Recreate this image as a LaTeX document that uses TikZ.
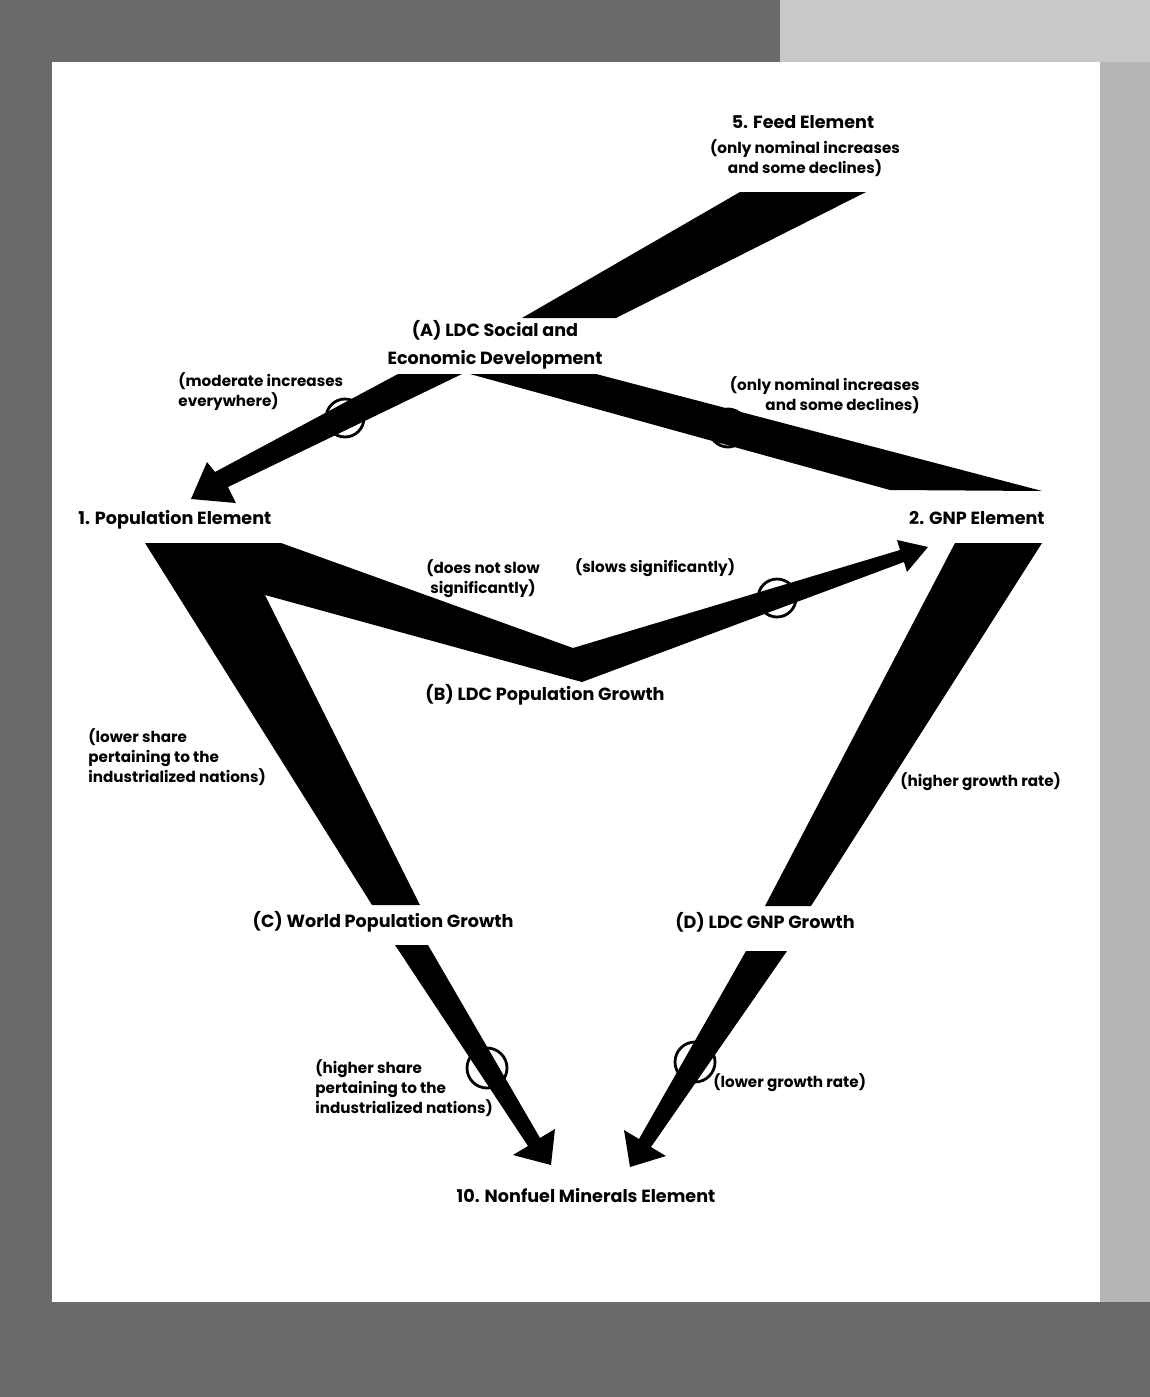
\documentclass[tikz,border=0pt]{standalone}
\usepackage{fontspec}
\setmainfont{Poppins}
\usetikzlibrary{positioning}
\definecolor{scanGrey}{HTML}{6A6A6A}
\definecolor{scanLight}{HTML}{C8C8C8}

\begin{document}
\begin{tikzpicture}[x=0.5pt, y=-0.5pt,
    titleLbl/.style={font=\fontsize{8.8}{14}\selectfont\bfseries, inner sep=0pt, align=center},
    noteLbl/.style={font=\fontsize{7.6}{10}\selectfont\bfseries, inner sep=0pt, align=center},
    noteLeft/.style={noteLbl, align=left, anchor=west},
    noteRight/.style={noteLbl, align=right, anchor=east},
    band/.style={fill=black, draw=none},
    breakRing/.style={draw=black, line width=1.4pt}
]
    \useasboundingbox (0,0) rectangle (1150,1397);

    % scanned page border
    \fill[scanGrey] (0,0) rectangle (1150,1397);
    \fill[scanLight] (780,0) rectangle (1150,62);
    \fill[scanLight!80!scanGrey] (1100,62) rectangle (1150,1302);
    \fill[white] (52,62) rectangle (1100,1302);

    % wide bands
    \fill[band] (740,192) -- (866,192) -- (616,318) -- (522,318) -- cycle;
    \fill[band] (398,374) -- (462,374) -- (228,487) -- (236,503) -- (191,499) -- (207,462) -- (215,472) -- cycle;
    \fill[band] (470,374) -- (596,374) -- (1042,491) -- (890,490) -- cycle;
    \fill[band] (145,543) -- (281,543) -- (573,648) -- (900,550) -- (897,540) -- (928,547) -- (907,572) -- (904,562)
        -- (582,682) -- (265,595) -- (420,905) -- (372,905) -- cycle;
    \fill[band] (955,543) -- (1042,543) -- (811,906) -- (765,906) -- cycle;
    \fill[band] (395,945) -- (428,945) -- (540,1138) -- (555,1129) -- (551,1165) -- (513,1155) -- (528,1146) -- cycle;
    \fill[band] (746,951) -- (787,951) -- (651,1147) -- (666,1156) -- (630,1167) -- (624,1130) -- (639,1139) -- cycle;

    % break rings
    \draw[breakRing] (345,418) circle[radius=9.5pt];
    \draw[breakRing] (728,428) circle[radius=9.5pt];
    \draw[breakRing] (777,598) circle[radius=9.5pt];
    \draw[breakRing] (487,1068) circle[radius=10pt];
    \draw[breakRing] (695,1062) circle[radius=10pt];

    % labels
    \node[titleLbl] (feedEl) at (803,122) {5. Feed Element};
    \node[noteLbl] (feedNote) at (805,158) {(only nominal increases\\and some declines)};
    \node[titleLbl] (ldcSoc) at (495,345) {(A) LDC Social and\\Economic Development};
    \node[noteLeft] (modNote) at (178,392) {(moderate increases\\everywhere)};
    \node[noteRight] (nomNote) at (920,395) {(only nominal increases\\and some declines)};
    \node[titleLbl, anchor=west] (popEl) at (78,520) {1. Population Element};
    \node[titleLbl, anchor=east] (gnpEl) at (1045,518) {2. GNP Element};
    \node[noteLbl] (slowNote) at (483,579) {(does not slow\\significantly)};
    \node[noteLbl] (slowsNote) at (655,568) {(slows significantly)};
    \node[titleLbl] (ldcPop) at (545,695) {(B) LDC Population Growth};
    \node[noteLeft] (lowerShare) at (88,757) {(lower share\\pertaining to the\\industrialized nations)};
    \node[noteLeft] (higherRate) at (900,782) {(higher growth rate)};
    \node[titleLbl] (worldPop) at (383,922) {(C) World Population Growth};
    \node[titleLbl] (ldcGnp) at (765,922) {(D) LDC GNP Growth};
    \node[noteLeft] (higherShare) at (315,1088) {(higher share\\pertaining to the\\industrialized nations)};
    \node[noteLeft] (lowerRate) at (713,1083) {(lower growth rate)};
    \node[titleLbl] (minEl) at (586,1196) {10. Nonfuel Minerals Element};
\end{tikzpicture}
\end{document}
